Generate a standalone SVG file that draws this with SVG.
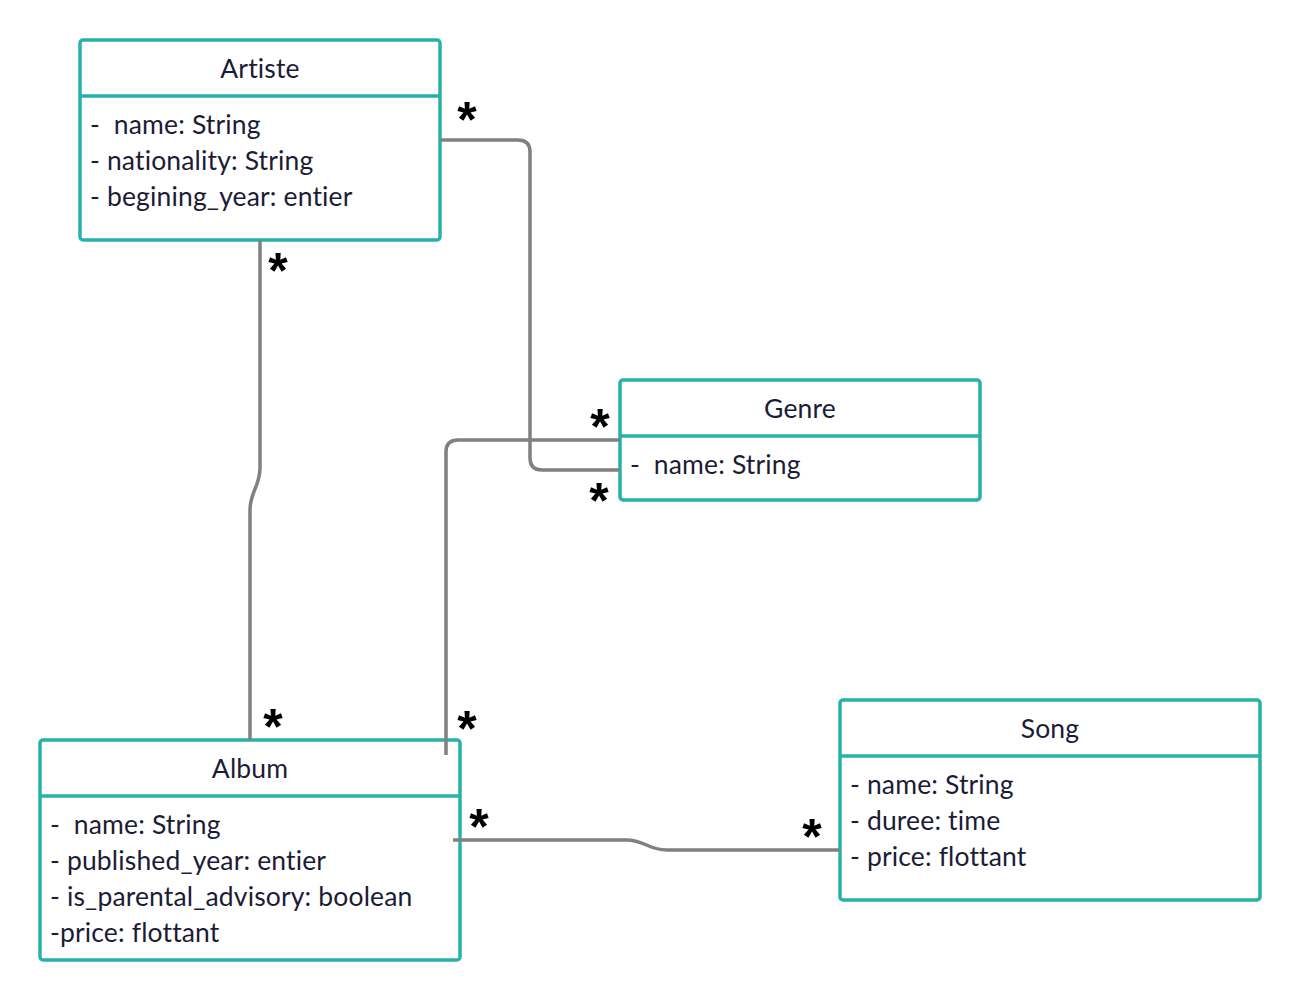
<svg xmlns="http://www.w3.org/2000/svg" width="1300" height="1000" viewBox="0 0 1300 1000">
<style>
.box{fill:#fff;stroke:#27b1ab;stroke-width:3.5}
.div{stroke:#27b1ab;stroke-width:3.5}
.t{font-family:Lato,"Open Sans",sans-serif;font-size:26.5px;letter-spacing:0.15px;fill:#1c1c36}
.c{text-anchor:middle}
.conn{fill:none;stroke:#808080;stroke-width:3.5}
.m{font-family:"Liberation Sans",Arial,sans-serif;font-size:50px;font-weight:bold;fill:#000;text-anchor:middle}
</style>
<rect width="1300" height="1000" fill="#fff"/>
<g id="artiste">
<rect class="box" x="80" y="40" width="360" height="200" rx="3"/>
<line class="div" x1="80" y1="96" x2="440" y2="96"/>
<text class="t c" x="260" y="78">Artiste</text>
<text class="t" x="90" y="134" xml:space="preserve">-  name: String</text>
<text class="t" x="90" y="170">- nationality: String</text>
<text class="t" x="90" y="206">- begining_year: entier</text>
</g>
<g id="genre">
<rect class="box" x="620" y="380" width="360" height="120" rx="3"/>
<line class="div" x1="620" y1="436" x2="980" y2="436"/>
<text class="t c" x="800" y="418">Genre</text>
<text class="t" x="630" y="474" xml:space="preserve">-  name: String</text>
</g>
<g id="album">
<rect class="box" x="40" y="740" width="420" height="220" rx="3"/>
<line class="div" x1="40" y1="796" x2="460" y2="796"/>
<text class="t c" x="250" y="778">Album</text>
<text class="t" x="50" y="834" xml:space="preserve">-  name: String</text>
<text class="t" x="50" y="870">- published_year: entier</text>
<text class="t" x="50" y="906">- is_parental_advisory: boolean</text>
<text class="t" x="50" y="942">-price: flottant</text>
</g>
<g id="song">
<rect class="box" x="840" y="700" width="420" height="200" rx="3"/>
<line class="div" x1="840" y1="756" x2="1260" y2="756"/>
<text class="t c" x="1050" y="738">Song</text>
<text class="t" x="850" y="794">- name: String</text>
<text class="t" x="850" y="830">- duree: time</text>
<text class="t" x="850" y="866">- price: flottant</text>
</g>
<g id="connectors">
<path class="conn" d="M440,140 H518 Q530,140 530,152 V458 Q530,470 542,470 H620"/>
<path class="conn" d="M620,440 H458 Q446,440 446,452 V755"/>
<path class="conn" d="M260,240 V468 C260,486 250,492 250,510 V740"/>
<path class="conn" d="M453,840 H626 C645,840 648,850 667,850 H840"/>
</g>
<g id="multiplicities">
<text class="m" x="467" y="137">*</text>
<text class="m" x="278" y="288">*</text>
<text class="m" x="600" y="444">*</text>
<text class="m" x="599" y="518">*</text>
<text class="m" x="273" y="744">*</text>
<text class="m" x="467" y="746">*</text>
<text class="m" x="479" y="844">*</text>
<text class="m" x="812" y="854">*</text>
</g>
</svg>
